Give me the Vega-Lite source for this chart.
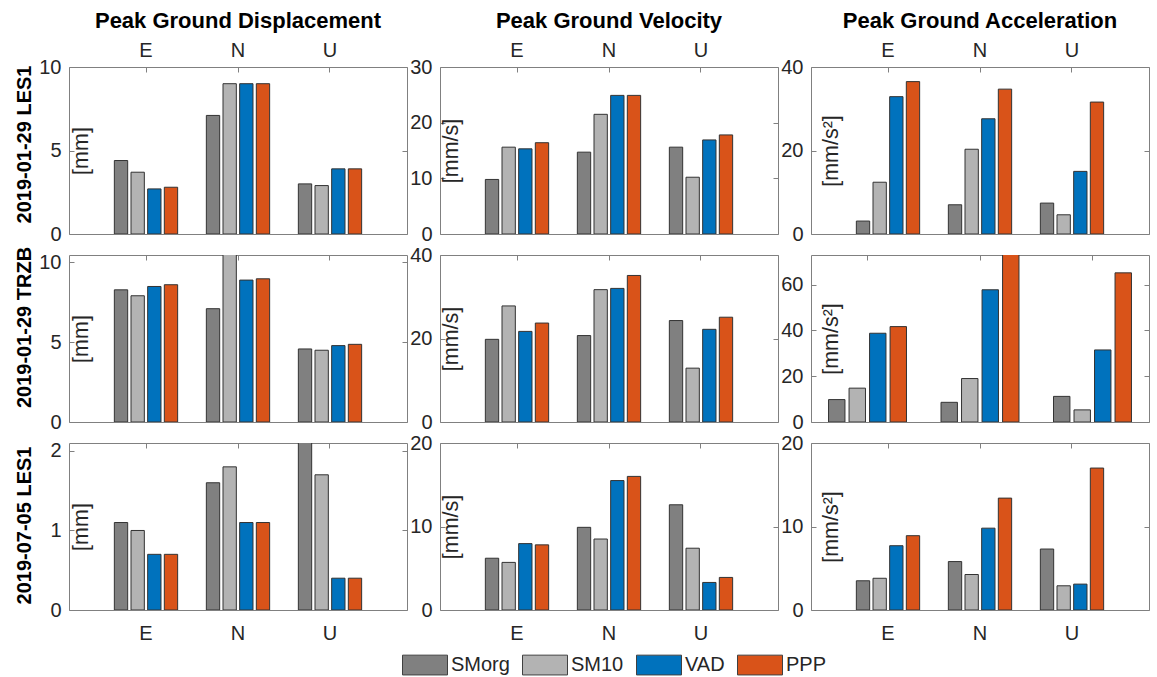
{
  "$schema": "https://vega.github.io/schema/vega-lite/v6.json",
  "padding": {"left": 13, "top": 9, "right": 9, "bottom": 5},
  "background": "white",
  "bounds": "flush",
  "columns": 3,
  "spacing": {"row": 21, "column": 33},
  "datasets": {
    "d": [
      {"event": "2019-01-29 LES1", "metric": "PGD", "comp": "E", "series": "SMorg", "value": 4.4},
      {"event": "2019-01-29 LES1", "metric": "PGD", "comp": "E", "series": "SM10", "value": 3.7},
      {"event": "2019-01-29 LES1", "metric": "PGD", "comp": "E", "series": "VAD", "value": 2.7},
      {"event": "2019-01-29 LES1", "metric": "PGD", "comp": "E", "series": "PPP", "value": 2.8},
      {"event": "2019-01-29 LES1", "metric": "PGD", "comp": "N", "series": "SMorg", "value": 7.1},
      {"event": "2019-01-29 LES1", "metric": "PGD", "comp": "N", "series": "SM10", "value": 9.0},
      {"event": "2019-01-29 LES1", "metric": "PGD", "comp": "N", "series": "VAD", "value": 9.0},
      {"event": "2019-01-29 LES1", "metric": "PGD", "comp": "N", "series": "PPP", "value": 9.0},
      {"event": "2019-01-29 LES1", "metric": "PGD", "comp": "U", "series": "SMorg", "value": 3.0},
      {"event": "2019-01-29 LES1", "metric": "PGD", "comp": "U", "series": "SM10", "value": 2.9},
      {"event": "2019-01-29 LES1", "metric": "PGD", "comp": "U", "series": "VAD", "value": 3.9},
      {"event": "2019-01-29 LES1", "metric": "PGD", "comp": "U", "series": "PPP", "value": 3.9},
      {"event": "2019-01-29 LES1", "metric": "PGV", "comp": "E", "series": "SMorg", "value": 9.8},
      {"event": "2019-01-29 LES1", "metric": "PGV", "comp": "E", "series": "SM10", "value": 15.6},
      {"event": "2019-01-29 LES1", "metric": "PGV", "comp": "E", "series": "VAD", "value": 15.3},
      {"event": "2019-01-29 LES1", "metric": "PGV", "comp": "E", "series": "PPP", "value": 16.4},
      {"event": "2019-01-29 LES1", "metric": "PGV", "comp": "N", "series": "SMorg", "value": 14.7},
      {"event": "2019-01-29 LES1", "metric": "PGV", "comp": "N", "series": "SM10", "value": 21.5},
      {"event": "2019-01-29 LES1", "metric": "PGV", "comp": "N", "series": "VAD", "value": 24.9},
      {"event": "2019-01-29 LES1", "metric": "PGV", "comp": "N", "series": "PPP", "value": 24.9},
      {"event": "2019-01-29 LES1", "metric": "PGV", "comp": "U", "series": "SMorg", "value": 15.6},
      {"event": "2019-01-29 LES1", "metric": "PGV", "comp": "U", "series": "SM10", "value": 10.2},
      {"event": "2019-01-29 LES1", "metric": "PGV", "comp": "U", "series": "VAD", "value": 16.9},
      {"event": "2019-01-29 LES1", "metric": "PGV", "comp": "U", "series": "PPP", "value": 17.8},
      {"event": "2019-01-29 LES1", "metric": "PGA", "comp": "E", "series": "SMorg", "value": 3.1},
      {"event": "2019-01-29 LES1", "metric": "PGA", "comp": "E", "series": "SM10", "value": 12.4},
      {"event": "2019-01-29 LES1", "metric": "PGA", "comp": "E", "series": "VAD", "value": 32.9},
      {"event": "2019-01-29 LES1", "metric": "PGA", "comp": "E", "series": "PPP", "value": 36.5},
      {"event": "2019-01-29 LES1", "metric": "PGA", "comp": "N", "series": "SMorg", "value": 7.0},
      {"event": "2019-01-29 LES1", "metric": "PGA", "comp": "N", "series": "SM10", "value": 20.3},
      {"event": "2019-01-29 LES1", "metric": "PGA", "comp": "N", "series": "VAD", "value": 27.6},
      {"event": "2019-01-29 LES1", "metric": "PGA", "comp": "N", "series": "PPP", "value": 34.7},
      {"event": "2019-01-29 LES1", "metric": "PGA", "comp": "U", "series": "SMorg", "value": 7.4},
      {"event": "2019-01-29 LES1", "metric": "PGA", "comp": "U", "series": "SM10", "value": 4.6},
      {"event": "2019-01-29 LES1", "metric": "PGA", "comp": "U", "series": "VAD", "value": 15.0},
      {"event": "2019-01-29 LES1", "metric": "PGA", "comp": "U", "series": "PPP", "value": 31.6},
      {"event": "2019-01-29 TRZB", "metric": "PGD", "comp": "E", "series": "SMorg", "value": 8.27},
      {"event": "2019-01-29 TRZB", "metric": "PGD", "comp": "E", "series": "SM10", "value": 7.9},
      {"event": "2019-01-29 TRZB", "metric": "PGD", "comp": "E", "series": "VAD", "value": 8.48},
      {"event": "2019-01-29 TRZB", "metric": "PGD", "comp": "E", "series": "PPP", "value": 8.59},
      {"event": "2019-01-29 TRZB", "metric": "PGD", "comp": "N", "series": "SMorg", "value": 7.09},
      {"event": "2019-01-29 TRZB", "metric": "PGD", "comp": "N", "series": "SM10", "value": 11.0},
      {"event": "2019-01-29 TRZB", "metric": "PGD", "comp": "N", "series": "VAD", "value": 8.88},
      {"event": "2019-01-29 TRZB", "metric": "PGD", "comp": "N", "series": "PPP", "value": 8.96},
      {"event": "2019-01-29 TRZB", "metric": "PGD", "comp": "U", "series": "SMorg", "value": 4.57},
      {"event": "2019-01-29 TRZB", "metric": "PGD", "comp": "U", "series": "SM10", "value": 4.49},
      {"event": "2019-01-29 TRZB", "metric": "PGD", "comp": "U", "series": "VAD", "value": 4.78},
      {"event": "2019-01-29 TRZB", "metric": "PGD", "comp": "U", "series": "PPP", "value": 4.86},
      {"event": "2019-01-29 TRZB", "metric": "PGV", "comp": "E", "series": "SMorg", "value": 19.8},
      {"event": "2019-01-29 TRZB", "metric": "PGV", "comp": "E", "series": "SM10", "value": 27.8},
      {"event": "2019-01-29 TRZB", "metric": "PGV", "comp": "E", "series": "VAD", "value": 21.7},
      {"event": "2019-01-29 TRZB", "metric": "PGV", "comp": "E", "series": "PPP", "value": 23.7},
      {"event": "2019-01-29 TRZB", "metric": "PGV", "comp": "N", "series": "SMorg", "value": 20.7},
      {"event": "2019-01-29 TRZB", "metric": "PGV", "comp": "N", "series": "SM10", "value": 31.7},
      {"event": "2019-01-29 TRZB", "metric": "PGV", "comp": "N", "series": "VAD", "value": 32.0},
      {"event": "2019-01-29 TRZB", "metric": "PGV", "comp": "N", "series": "PPP", "value": 35.1},
      {"event": "2019-01-29 TRZB", "metric": "PGV", "comp": "U", "series": "SMorg", "value": 24.3},
      {"event": "2019-01-29 TRZB", "metric": "PGV", "comp": "U", "series": "SM10", "value": 12.9},
      {"event": "2019-01-29 TRZB", "metric": "PGV", "comp": "U", "series": "VAD", "value": 22.2},
      {"event": "2019-01-29 TRZB", "metric": "PGV", "comp": "U", "series": "PPP", "value": 25.1},
      {"event": "2019-01-29 TRZB", "metric": "PGA", "comp": "E", "series": "SMorg", "value": 9.8},
      {"event": "2019-01-29 TRZB", "metric": "PGA", "comp": "E", "series": "SM10", "value": 14.8},
      {"event": "2019-01-29 TRZB", "metric": "PGA", "comp": "E", "series": "VAD", "value": 38.8},
      {"event": "2019-01-29 TRZB", "metric": "PGA", "comp": "E", "series": "PPP", "value": 41.7},
      {"event": "2019-01-29 TRZB", "metric": "PGA", "comp": "N", "series": "SMorg", "value": 8.6},
      {"event": "2019-01-29 TRZB", "metric": "PGA", "comp": "N", "series": "SM10", "value": 19.0},
      {"event": "2019-01-29 TRZB", "metric": "PGA", "comp": "N", "series": "VAD", "value": 57.8},
      {"event": "2019-01-29 TRZB", "metric": "PGA", "comp": "N", "series": "PPP", "value": 76.0},
      {"event": "2019-01-29 TRZB", "metric": "PGA", "comp": "U", "series": "SMorg", "value": 11.2},
      {"event": "2019-01-29 TRZB", "metric": "PGA", "comp": "U", "series": "SM10", "value": 5.3},
      {"event": "2019-01-29 TRZB", "metric": "PGA", "comp": "U", "series": "VAD", "value": 31.5},
      {"event": "2019-01-29 TRZB", "metric": "PGA", "comp": "U", "series": "PPP", "value": 65.2},
      {"event": "2019-07-05 LES1", "metric": "PGD", "comp": "E", "series": "SMorg", "value": 1.1},
      {"event": "2019-07-05 LES1", "metric": "PGD", "comp": "E", "series": "SM10", "value": 1.0},
      {"event": "2019-07-05 LES1", "metric": "PGD", "comp": "E", "series": "VAD", "value": 0.7},
      {"event": "2019-07-05 LES1", "metric": "PGD", "comp": "E", "series": "PPP", "value": 0.7},
      {"event": "2019-07-05 LES1", "metric": "PGD", "comp": "N", "series": "SMorg", "value": 1.6},
      {"event": "2019-07-05 LES1", "metric": "PGD", "comp": "N", "series": "SM10", "value": 1.8},
      {"event": "2019-07-05 LES1", "metric": "PGD", "comp": "N", "series": "VAD", "value": 1.1},
      {"event": "2019-07-05 LES1", "metric": "PGD", "comp": "N", "series": "PPP", "value": 1.1},
      {"event": "2019-07-05 LES1", "metric": "PGD", "comp": "U", "series": "SMorg", "value": 2.2},
      {"event": "2019-07-05 LES1", "metric": "PGD", "comp": "U", "series": "SM10", "value": 1.7},
      {"event": "2019-07-05 LES1", "metric": "PGD", "comp": "U", "series": "VAD", "value": 0.4},
      {"event": "2019-07-05 LES1", "metric": "PGD", "comp": "U", "series": "PPP", "value": 0.4},
      {"event": "2019-07-05 LES1", "metric": "PGV", "comp": "E", "series": "SMorg", "value": 6.2},
      {"event": "2019-07-05 LES1", "metric": "PGV", "comp": "E", "series": "SM10", "value": 5.7},
      {"event": "2019-07-05 LES1", "metric": "PGV", "comp": "E", "series": "VAD", "value": 7.95},
      {"event": "2019-07-05 LES1", "metric": "PGV", "comp": "E", "series": "PPP", "value": 7.8},
      {"event": "2019-07-05 LES1", "metric": "PGV", "comp": "N", "series": "SMorg", "value": 9.9},
      {"event": "2019-07-05 LES1", "metric": "PGV", "comp": "N", "series": "SM10", "value": 8.5},
      {"event": "2019-07-05 LES1", "metric": "PGV", "comp": "N", "series": "VAD", "value": 15.5},
      {"event": "2019-07-05 LES1", "metric": "PGV", "comp": "N", "series": "PPP", "value": 16.0},
      {"event": "2019-07-05 LES1", "metric": "PGV", "comp": "U", "series": "SMorg", "value": 12.6},
      {"event": "2019-07-05 LES1", "metric": "PGV", "comp": "U", "series": "SM10", "value": 7.4},
      {"event": "2019-07-05 LES1", "metric": "PGV", "comp": "U", "series": "VAD", "value": 3.3},
      {"event": "2019-07-05 LES1", "metric": "PGV", "comp": "U", "series": "PPP", "value": 3.9},
      {"event": "2019-07-05 LES1", "metric": "PGA", "comp": "E", "series": "SMorg", "value": 3.5},
      {"event": "2019-07-05 LES1", "metric": "PGA", "comp": "E", "series": "SM10", "value": 3.8},
      {"event": "2019-07-05 LES1", "metric": "PGA", "comp": "E", "series": "VAD", "value": 7.7},
      {"event": "2019-07-05 LES1", "metric": "PGA", "comp": "E", "series": "PPP", "value": 8.9},
      {"event": "2019-07-05 LES1", "metric": "PGA", "comp": "N", "series": "SMorg", "value": 5.8},
      {"event": "2019-07-05 LES1", "metric": "PGA", "comp": "N", "series": "SM10", "value": 4.25},
      {"event": "2019-07-05 LES1", "metric": "PGA", "comp": "N", "series": "VAD", "value": 9.8},
      {"event": "2019-07-05 LES1", "metric": "PGA", "comp": "N", "series": "PPP", "value": 13.4},
      {"event": "2019-07-05 LES1", "metric": "PGA", "comp": "U", "series": "SMorg", "value": 7.3},
      {"event": "2019-07-05 LES1", "metric": "PGA", "comp": "U", "series": "SM10", "value": 2.9},
      {"event": "2019-07-05 LES1", "metric": "PGA", "comp": "U", "series": "VAD", "value": 3.1},
      {"event": "2019-07-05 LES1", "metric": "PGA", "comp": "U", "series": "PPP", "value": 17.0}
    ]
  },
  "concat": [
    {
      "width": 338, "height": 167,
      "title": {"text": "Peak Ground Displacement"},
      "data": {"name": "d"},
      "transform": [{"filter": "datum.event === '2019-01-29 LES1' && datum.metric === 'PGD'"}],
      "layer": [
        {"mark": {"type": "bar", "clip": true, "stroke": "#333333", "strokeWidth": 1},
         "encoding": {
           "x": {"field": "comp", "type": "nominal", "sort": ["E", "N", "U"], "scale": {"paddingInner": 0.312, "paddingOuter": 0.493}, "axis": {"orient": "top", "title": null, "labels": true}},
           "xOffset": {"field": "series", "type": "nominal", "sort": ["SMorg", "SM10", "VAD", "PPP"], "scale": {"paddingInner": 0.2, "paddingOuter": 0}},
           "y": {"field": "value", "type": "quantitative", "scale": {"domain": [0, 10], "nice": false, "zero": true}, "axis": {"orient": "left", "values": [0, 5, 10], "format": ".0f", "title": "2019-01-29 LES1", "titleX": -45, "titleY": 77}},
           "color": {"field": "series", "type": "nominal", "sort": ["SMorg", "SM10", "VAD", "PPP"], "scale": {"domain": ["SMorg", "SM10", "VAD", "PPP"], "range": ["#808080", "#b3b3b3", "#0072bd", "#d95319"]}, "legend": {"title": null}}
         }},
        {"mark": {"type": "bar", "clip": true, "opacity": 0},
         "encoding": {
           "x": {"field": "comp", "type": "nominal", "sort": ["E", "N", "U"], "scale": {"paddingInner": 0.312, "paddingOuter": 0.493}, "axis": null},
           "xOffset": {"field": "series", "type": "nominal", "sort": ["SMorg", "SM10", "VAD", "PPP"], "scale": {"paddingInner": 0.2, "paddingOuter": 0}},
           "y": {"field": "value", "type": "quantitative", "scale": {"domain": [0, 10], "nice": false, "zero": true}, "axis": {"orient": "right", "values": [0, 5, 10], "labels": false, "title": "[mm]", "titleX": -326}}
         }}
      ],
      "resolve": {"axis": {"x": "independent", "y": "independent"}}
    },
    {
      "width": 338, "height": 167,
      "title": {"text": "Peak Ground Velocity"},
      "data": {"name": "d"},
      "transform": [{"filter": "datum.event === '2019-01-29 LES1' && datum.metric === 'PGV'"}],
      "layer": [
        {"mark": {"type": "bar", "clip": true, "stroke": "#333333", "strokeWidth": 1},
         "encoding": {
           "x": {"field": "comp", "type": "nominal", "sort": ["E", "N", "U"], "scale": {"paddingInner": 0.312, "paddingOuter": 0.493}, "axis": {"orient": "top", "title": null, "labels": true}},
           "xOffset": {"field": "series", "type": "nominal", "sort": ["SMorg", "SM10", "VAD", "PPP"], "scale": {"paddingInner": 0.2, "paddingOuter": 0}},
           "y": {"field": "value", "type": "quantitative", "scale": {"domain": [0, 30], "nice": false, "zero": true}, "axis": {"orient": "left", "values": [0, 10, 20, 30], "format": ".0f", "title": null}},
           "color": {"field": "series", "type": "nominal", "sort": ["SMorg", "SM10", "VAD", "PPP"], "scale": {"domain": ["SMorg", "SM10", "VAD", "PPP"], "range": ["#808080", "#b3b3b3", "#0072bd", "#d95319"]}, "legend": {"title": null}}
         }},
        {"mark": {"type": "bar", "clip": true, "opacity": 0},
         "encoding": {
           "x": {"field": "comp", "type": "nominal", "sort": ["E", "N", "U"], "scale": {"paddingInner": 0.312, "paddingOuter": 0.493}, "axis": null},
           "xOffset": {"field": "series", "type": "nominal", "sort": ["SMorg", "SM10", "VAD", "PPP"], "scale": {"paddingInner": 0.2, "paddingOuter": 0}},
           "y": {"field": "value", "type": "quantitative", "scale": {"domain": [0, 30], "nice": false, "zero": true}, "axis": {"orient": "right", "values": [0, 10, 20, 30], "labels": false, "title": "[mm/s]", "titleX": -327}}
         }}
      ],
      "resolve": {"axis": {"x": "independent", "y": "independent"}}
    },
    {
      "width": 338, "height": 167,
      "title": {"text": "Peak Ground Acceleration"},
      "data": {"name": "d"},
      "transform": [{"filter": "datum.event === '2019-01-29 LES1' && datum.metric === 'PGA'"}],
      "layer": [
        {"mark": {"type": "bar", "clip": true, "stroke": "#333333", "strokeWidth": 1},
         "encoding": {
           "x": {"field": "comp", "type": "nominal", "sort": ["E", "N", "U"], "scale": {"paddingInner": 0.312, "paddingOuter": 0.493}, "axis": {"orient": "top", "title": null, "labels": true}},
           "xOffset": {"field": "series", "type": "nominal", "sort": ["SMorg", "SM10", "VAD", "PPP"], "scale": {"paddingInner": 0.2, "paddingOuter": 0}},
           "y": {"field": "value", "type": "quantitative", "scale": {"domain": [0, 40], "nice": false, "zero": true}, "axis": {"orient": "left", "values": [0, 20, 40], "format": ".0f", "title": null}},
           "color": {"field": "series", "type": "nominal", "sort": ["SMorg", "SM10", "VAD", "PPP"], "scale": {"domain": ["SMorg", "SM10", "VAD", "PPP"], "range": ["#808080", "#b3b3b3", "#0072bd", "#d95319"]}, "legend": {"title": null}}
         }},
        {"mark": {"type": "bar", "clip": true, "opacity": 0},
         "encoding": {
           "x": {"field": "comp", "type": "nominal", "sort": ["E", "N", "U"], "scale": {"paddingInner": 0.312, "paddingOuter": 0.493}, "axis": null},
           "xOffset": {"field": "series", "type": "nominal", "sort": ["SMorg", "SM10", "VAD", "PPP"], "scale": {"paddingInner": 0.2, "paddingOuter": 0}},
           "y": {"field": "value", "type": "quantitative", "scale": {"domain": [0, 40], "nice": false, "zero": true}, "axis": {"orient": "right", "values": [0, 20, 40], "labels": false, "title": "[mm/s²]", "titleX": -318}}
         }}
      ],
      "resolve": {"axis": {"x": "independent", "y": "independent"}}
    },
    {
      "width": 338, "height": 167,
      "data": {"name": "d"},
      "transform": [{"filter": "datum.event === '2019-01-29 TRZB' && datum.metric === 'PGD'"}],
      "layer": [
        {"mark": {"type": "bar", "clip": true, "stroke": "#333333", "strokeWidth": 1},
         "encoding": {
           "x": {"field": "comp", "type": "nominal", "sort": ["E", "N", "U"], "scale": {"paddingInner": 0.312, "paddingOuter": 0.493}, "axis": {"orient": "top", "title": null, "labels": false}},
           "xOffset": {"field": "series", "type": "nominal", "sort": ["SMorg", "SM10", "VAD", "PPP"], "scale": {"paddingInner": 0.2, "paddingOuter": 0}},
           "y": {"field": "value", "type": "quantitative", "scale": {"domain": [0, 10.45], "nice": false, "zero": true}, "axis": {"orient": "left", "values": [0, 5, 10], "format": ".0f", "title": "2019-01-29 TRZB", "titleX": -45, "titleY": 72}},
           "color": {"field": "series", "type": "nominal", "sort": ["SMorg", "SM10", "VAD", "PPP"], "scale": {"domain": ["SMorg", "SM10", "VAD", "PPP"], "range": ["#808080", "#b3b3b3", "#0072bd", "#d95319"]}, "legend": {"title": null}}
         }},
        {"mark": {"type": "bar", "clip": true, "opacity": 0},
         "encoding": {
           "x": {"field": "comp", "type": "nominal", "sort": ["E", "N", "U"], "scale": {"paddingInner": 0.312, "paddingOuter": 0.493}, "axis": null},
           "xOffset": {"field": "series", "type": "nominal", "sort": ["SMorg", "SM10", "VAD", "PPP"], "scale": {"paddingInner": 0.2, "paddingOuter": 0}},
           "y": {"field": "value", "type": "quantitative", "scale": {"domain": [0, 10.45], "nice": false, "zero": true}, "axis": {"orient": "right", "values": [0, 5, 10], "labels": false, "title": "[mm]", "titleX": -326}}
         }}
      ],
      "resolve": {"axis": {"x": "independent", "y": "independent"}}
    },
    {
      "width": 338, "height": 167,
      "data": {"name": "d"},
      "transform": [{"filter": "datum.event === '2019-01-29 TRZB' && datum.metric === 'PGV'"}],
      "layer": [
        {"mark": {"type": "bar", "clip": true, "stroke": "#333333", "strokeWidth": 1},
         "encoding": {
           "x": {"field": "comp", "type": "nominal", "sort": ["E", "N", "U"], "scale": {"paddingInner": 0.312, "paddingOuter": 0.493}, "axis": {"orient": "top", "title": null, "labels": false}},
           "xOffset": {"field": "series", "type": "nominal", "sort": ["SMorg", "SM10", "VAD", "PPP"], "scale": {"paddingInner": 0.2, "paddingOuter": 0}},
           "y": {"field": "value", "type": "quantitative", "scale": {"domain": [0, 40], "nice": false, "zero": true}, "axis": {"orient": "left", "values": [0, 20, 40], "format": ".0f", "title": null}},
           "color": {"field": "series", "type": "nominal", "sort": ["SMorg", "SM10", "VAD", "PPP"], "scale": {"domain": ["SMorg", "SM10", "VAD", "PPP"], "range": ["#808080", "#b3b3b3", "#0072bd", "#d95319"]}, "legend": {"title": null}}
         }},
        {"mark": {"type": "bar", "clip": true, "opacity": 0},
         "encoding": {
           "x": {"field": "comp", "type": "nominal", "sort": ["E", "N", "U"], "scale": {"paddingInner": 0.312, "paddingOuter": 0.493}, "axis": null},
           "xOffset": {"field": "series", "type": "nominal", "sort": ["SMorg", "SM10", "VAD", "PPP"], "scale": {"paddingInner": 0.2, "paddingOuter": 0}},
           "y": {"field": "value", "type": "quantitative", "scale": {"domain": [0, 40], "nice": false, "zero": true}, "axis": {"orient": "right", "values": [0, 20, 40], "labels": false, "title": "[mm/s]", "titleX": -327}}
         }}
      ],
      "resolve": {"axis": {"x": "independent", "y": "independent"}}
    },
    {
      "width": 338, "height": 167,
      "data": {"name": "d"},
      "transform": [{"filter": "datum.event === '2019-01-29 TRZB' && datum.metric === 'PGA'"}],
      "layer": [
        {"mark": {"type": "bar", "clip": true, "stroke": "#333333", "strokeWidth": 1},
         "encoding": {
           "x": {"field": "comp", "type": "nominal", "sort": ["E", "N", "U"], "scale": {"paddingInner": 0.307, "paddingOuter": 0.156}, "axis": {"orient": "top", "title": null, "labels": false}},
           "xOffset": {"field": "series", "type": "nominal", "sort": ["SMorg", "SM10", "VAD", "PPP"], "scale": {"paddingInner": 0.2, "paddingOuter": 0}},
           "y": {"field": "value", "type": "quantitative", "scale": {"domain": [0, 73], "nice": false, "zero": true}, "axis": {"orient": "left", "values": [0, 20, 40, 60], "format": ".0f", "title": null}},
           "color": {"field": "series", "type": "nominal", "sort": ["SMorg", "SM10", "VAD", "PPP"], "scale": {"domain": ["SMorg", "SM10", "VAD", "PPP"], "range": ["#808080", "#b3b3b3", "#0072bd", "#d95319"]}, "legend": {"title": null}}
         }},
        {"mark": {"type": "bar", "clip": true, "opacity": 0},
         "encoding": {
           "x": {"field": "comp", "type": "nominal", "sort": ["E", "N", "U"], "scale": {"paddingInner": 0.307, "paddingOuter": 0.156}, "axis": null},
           "xOffset": {"field": "series", "type": "nominal", "sort": ["SMorg", "SM10", "VAD", "PPP"], "scale": {"paddingInner": 0.2, "paddingOuter": 0}},
           "y": {"field": "value", "type": "quantitative", "scale": {"domain": [0, 73], "nice": false, "zero": true}, "axis": {"orient": "right", "values": [0, 20, 40, 60], "labels": false, "title": "[mm/s²]", "titleX": -318}}
         }}
      ],
      "resolve": {"axis": {"x": "independent", "y": "independent"}}
    },
    {
      "width": 338, "height": 167,
      "data": {"name": "d"},
      "transform": [{"filter": "datum.event === '2019-07-05 LES1' && datum.metric === 'PGD'"}],
      "layer": [
        {"mark": {"type": "bar", "clip": true, "stroke": "#333333", "strokeWidth": 1},
         "encoding": {
           "x": {"field": "comp", "type": "nominal", "sort": ["E", "N", "U"], "scale": {"paddingInner": 0.312, "paddingOuter": 0.493}, "axis": {"orient": "top", "title": null, "labels": false}},
           "xOffset": {"field": "series", "type": "nominal", "sort": ["SMorg", "SM10", "VAD", "PPP"], "scale": {"paddingInner": 0.2, "paddingOuter": 0}},
           "y": {"field": "value", "type": "quantitative", "scale": {"domain": [0, 2.1], "nice": false, "zero": true}, "axis": {"orient": "left", "values": [0, 1, 2], "format": ".0f", "title": "2019-07-05 LES1", "titleX": -45, "titleY": 82}},
           "color": {"field": "series", "type": "nominal", "sort": ["SMorg", "SM10", "VAD", "PPP"], "scale": {"domain": ["SMorg", "SM10", "VAD", "PPP"], "range": ["#808080", "#b3b3b3", "#0072bd", "#d95319"]}, "legend": {"title": null}}
         }},
        {"mark": {"type": "bar", "clip": true, "opacity": 0},
         "encoding": {
           "x": {"field": "comp", "type": "nominal", "sort": ["E", "N", "U"], "scale": {"paddingInner": 0.312, "paddingOuter": 0.493}, "axis": {"orient": "bottom", "title": null, "labels": true, "ticks": false}},
           "xOffset": {"field": "series", "type": "nominal", "sort": ["SMorg", "SM10", "VAD", "PPP"], "scale": {"paddingInner": 0.2, "paddingOuter": 0}},
           "y": {"field": "value", "type": "quantitative", "scale": {"domain": [0, 2.1], "nice": false, "zero": true}, "axis": {"orient": "right", "values": [0, 1, 2], "labels": false, "title": "[mm]", "titleX": -326}}
         }}
      ],
      "resolve": {"axis": {"x": "independent", "y": "independent"}}
    },
    {
      "width": 338, "height": 167,
      "data": {"name": "d"},
      "transform": [{"filter": "datum.event === '2019-07-05 LES1' && datum.metric === 'PGV'"}],
      "layer": [
        {"mark": {"type": "bar", "clip": true, "stroke": "#333333", "strokeWidth": 1},
         "encoding": {
           "x": {"field": "comp", "type": "nominal", "sort": ["E", "N", "U"], "scale": {"paddingInner": 0.312, "paddingOuter": 0.493}, "axis": {"orient": "top", "title": null, "labels": false}},
           "xOffset": {"field": "series", "type": "nominal", "sort": ["SMorg", "SM10", "VAD", "PPP"], "scale": {"paddingInner": 0.2, "paddingOuter": 0}},
           "y": {"field": "value", "type": "quantitative", "scale": {"domain": [0, 20], "nice": false, "zero": true}, "axis": {"orient": "left", "values": [0, 10, 20], "format": ".0f", "title": null}},
           "color": {"field": "series", "type": "nominal", "sort": ["SMorg", "SM10", "VAD", "PPP"], "scale": {"domain": ["SMorg", "SM10", "VAD", "PPP"], "range": ["#808080", "#b3b3b3", "#0072bd", "#d95319"]}, "legend": {"title": null}}
         }},
        {"mark": {"type": "bar", "clip": true, "opacity": 0},
         "encoding": {
           "x": {"field": "comp", "type": "nominal", "sort": ["E", "N", "U"], "scale": {"paddingInner": 0.312, "paddingOuter": 0.493}, "axis": {"orient": "bottom", "title": null, "labels": true, "ticks": false}},
           "xOffset": {"field": "series", "type": "nominal", "sort": ["SMorg", "SM10", "VAD", "PPP"], "scale": {"paddingInner": 0.2, "paddingOuter": 0}},
           "y": {"field": "value", "type": "quantitative", "scale": {"domain": [0, 20], "nice": false, "zero": true}, "axis": {"orient": "right", "values": [0, 10, 20], "labels": false, "title": "[mm/s]", "titleX": -327}}
         }}
      ],
      "resolve": {"axis": {"x": "independent", "y": "independent"}}
    },
    {
      "width": 338, "height": 167,
      "data": {"name": "d"},
      "transform": [{"filter": "datum.event === '2019-07-05 LES1' && datum.metric === 'PGA'"}],
      "layer": [
        {"mark": {"type": "bar", "clip": true, "stroke": "#333333", "strokeWidth": 1},
         "encoding": {
           "x": {"field": "comp", "type": "nominal", "sort": ["E", "N", "U"], "scale": {"paddingInner": 0.312, "paddingOuter": 0.493}, "axis": {"orient": "top", "title": null, "labels": false}},
           "xOffset": {"field": "series", "type": "nominal", "sort": ["SMorg", "SM10", "VAD", "PPP"], "scale": {"paddingInner": 0.2, "paddingOuter": 0}},
           "y": {"field": "value", "type": "quantitative", "scale": {"domain": [0, 20], "nice": false, "zero": true}, "axis": {"orient": "left", "values": [0, 10, 20], "format": ".0f", "title": null}},
           "color": {"field": "series", "type": "nominal", "sort": ["SMorg", "SM10", "VAD", "PPP"], "scale": {"domain": ["SMorg", "SM10", "VAD", "PPP"], "range": ["#808080", "#b3b3b3", "#0072bd", "#d95319"]}, "legend": {"title": null}}
         }},
        {"mark": {"type": "bar", "clip": true, "opacity": 0},
         "encoding": {
           "x": {"field": "comp", "type": "nominal", "sort": ["E", "N", "U"], "scale": {"paddingInner": 0.312, "paddingOuter": 0.493}, "axis": {"orient": "bottom", "title": null, "labels": true, "ticks": false}},
           "xOffset": {"field": "series", "type": "nominal", "sort": ["SMorg", "SM10", "VAD", "PPP"], "scale": {"paddingInner": 0.2, "paddingOuter": 0}},
           "y": {"field": "value", "type": "quantitative", "scale": {"domain": [0, 20], "nice": false, "zero": true}, "axis": {"orient": "right", "values": [0, 10, 20], "labels": false, "title": "[mm/s²]", "titleX": -318}}
         }}
      ],
      "resolve": {"axis": {"x": "independent", "y": "independent"}}
    }
  ],
  "resolve": {"scale": {"x": "independent", "y": "independent", "xOffset": "independent", "color": "shared"}},
  "config": {
    "font": "Liberation Sans",
    "view": {"stroke": "#808080", "strokeWidth": 1},
    "axis": {
      "domain": false, "grid": false, "labelOverlap": false,
      "tickColor": "#808080", "tickSize": -5, "tickWidth": 1,
      "labelFont": "Liberation Sans", "labelFontSize": 20, "labelColor": "#262626",
      "titleFont": "Liberation Sans", "titleColor": "#1a1a1a"
    },
    "axisX": {"labelAngle": 0},
    "axisTop": {"labelPadding": 16, "labelBaseline": "alphabetic"},
    "axisBottom": {"labelPadding": 13},
    "axisLeft": {"labelPadding": 13, "titleFontSize": 20, "titleFontWeight": "bold", "titleColor": "#000000", "titleBaseline": "middle", "titleAngle": 270},
    "axisRight": {"titleFontSize": 21.5, "titleFontWeight": "normal", "titleBaseline": "middle", "titleAngle": 270, "titleColor": "#262626"},
    "title": {"font": "Liberation Sans", "fontSize": 22, "fontWeight": "bold", "color": "#000000", "anchor": "middle", "offset": 7},
    "legend": {
      "orient": "none", "legendX": 333, "legendY": 575, "direction": "horizontal", "columns": 4,
      "symbolType": "M-1,-0.44H1V0.44H-1Z", "symbolSize": 2025,
      "symbolStrokeColor": "#404040", "symbolStrokeWidth": 1, "symbolOpacity": 1,
      "labelFont": "Liberation Sans", "labelFontSize": 20, "labelColor": "#262626",
      "labelOffset": 3, "columnPadding": 10, "padding": 0
    }
  }
}
